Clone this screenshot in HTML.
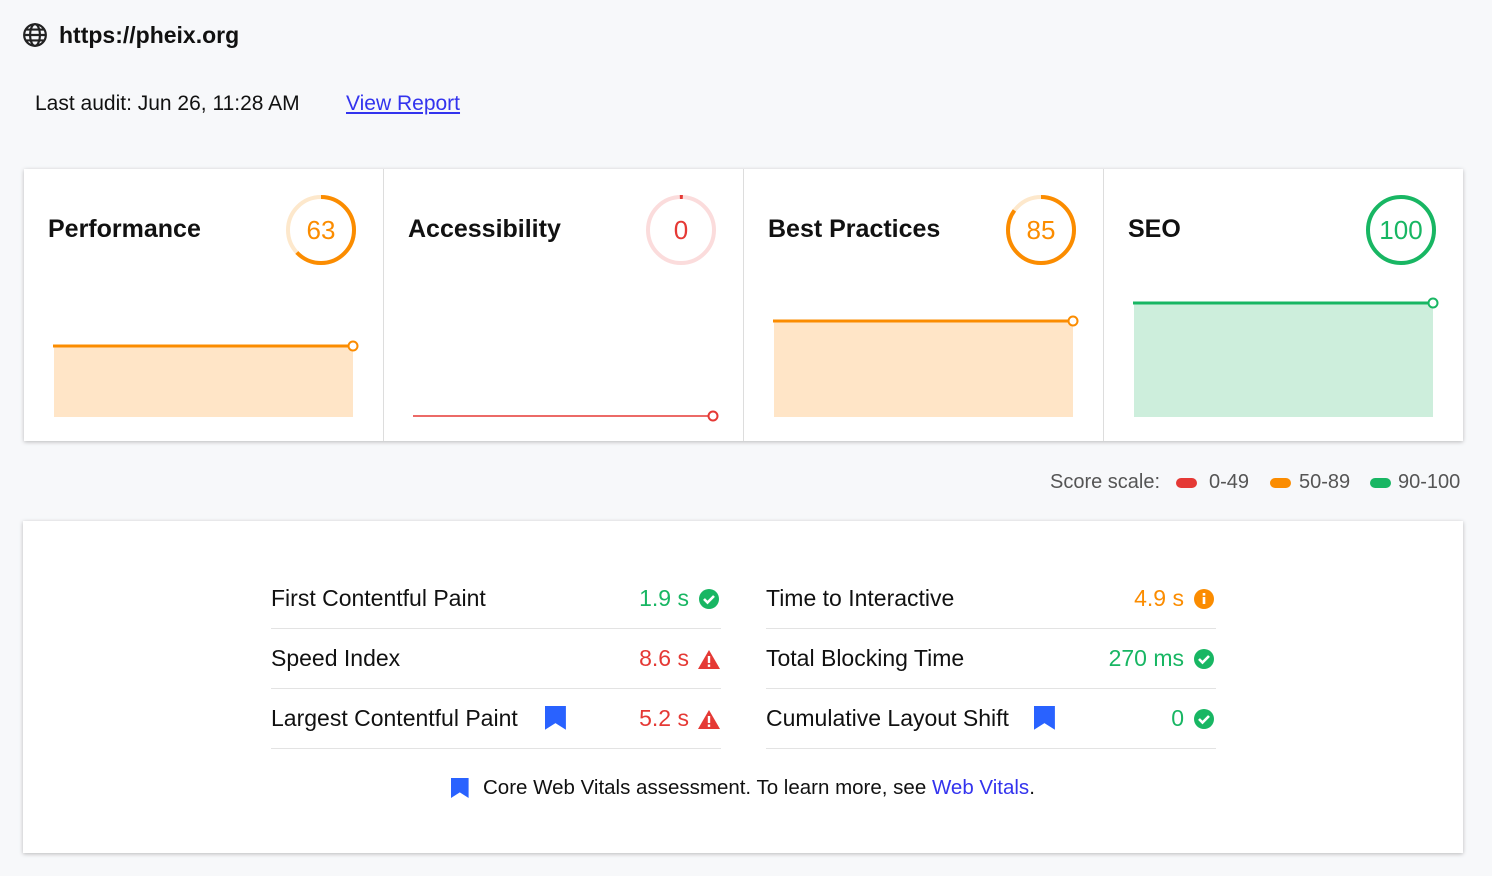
<!DOCTYPE html>
<html><head><style>
body{margin:0;width:1492px;height:876px;background:#f7f8fa;font-family:"Liberation Sans",sans-serif;color:#111;position:relative;overflow:hidden}
.a{position:absolute;white-space:nowrap}
.card{position:absolute;background:#fff;box-shadow:0 1px 4px rgba(0,0,0,.25)}
.t{font-size:25px;font-weight:bold;top:215px}
.m{font-size:23px}
.sep{position:absolute;height:1px;background:#e3e3e3}
</style></head><body>
<svg class="a" style="left:22px;top:22px" width="26" height="26" viewBox="0 0 24 24"><circle cx="12" cy="12" r="10" fill="none" stroke="#222" stroke-width="2"/><ellipse cx="12" cy="12" rx="4.5" ry="10" fill="none" stroke="#222" stroke-width="2"/><path d="M2 12H22M4 7H20M4 17H20" stroke="#222" stroke-width="2"/></svg>
<div class="a" style="left:59px;top:22px;font-size:23px;font-weight:bold">https://pheix.org</div>
<div class="a" style="left:35px;top:92px;font-size:21px">Last audit: Jun 26, 11:28 AM</div>
<div class="a" style="left:346px;top:92px;font-size:21px;color:#3333ee;text-decoration:underline">View Report</div>

<div class="card" style="left:24px;top:169px;width:1439px;height:272px"></div>
<div class="a" style="left:383px;top:169px;width:1px;height:272px;background:#ddd"></div>
<div class="a" style="left:743px;top:169px;width:1px;height:272px;background:#ddd"></div>
<div class="a" style="left:1103px;top:169px;width:1px;height:272px;background:#ddd"></div>
<div class="a t" style="left:48px">Performance</div>
<div class="a t" style="left:408px">Accessibility</div>
<div class="a t" style="left:768px">Best Practices</div>
<div class="a t" style="left:1128px">SEO</div>
<svg class="a" style="left:0;top:0" width="1492" height="450">
<g fill="none" stroke-width="4">
<circle cx="321" cy="230" r="33" stroke="#fde8cc"/>
<circle cx="321" cy="230" r="33" stroke="#fb8c00" stroke-dasharray="130.6 207.3" transform="rotate(-90 321 230)"/>
<circle cx="681" cy="230" r="33" stroke="#fbdcdc"/>
<circle cx="681" cy="230" r="33" stroke="#e53935" stroke-dasharray="3 207.3" transform="rotate(-92 681 230)"/>
<circle cx="1041" cy="230" r="33" stroke="#fde8cc"/>
<circle cx="1041" cy="230" r="33" stroke="#fb8c00" stroke-dasharray="176.2 207.3" transform="rotate(-90 1041 230)"/>
<circle cx="1401" cy="230" r="33" stroke="#18b663"/>
</g>
<g font-family="Liberation Sans" font-size="26" text-anchor="middle">
<text x="321" y="239" fill="#fb8c00">63</text>
<text x="681" y="239" fill="#e53935">0</text>
<text x="1041" y="239" fill="#fb8c00">85</text>
<text x="1401" y="239" fill="#18b663">100</text>
</g>
<rect x="54" y="346" width="299" height="71" fill="#ffe5c7"/>
<line x1="53" y1="346" x2="353" y2="346" stroke="#fb8c00" stroke-width="3"/>
<circle cx="353" cy="346" r="4.5" fill="#fff" stroke="#fb8c00" stroke-width="2"/>
<line x1="413" y1="416" x2="713" y2="416" stroke="#e53935" stroke-width="1.5"/>
<circle cx="713" cy="416" r="4.5" fill="#fff" stroke="#e53935" stroke-width="2"/>
<rect x="774" y="321" width="299" height="96" fill="#ffe5c7"/>
<line x1="773" y1="321" x2="1073" y2="321" stroke="#fb8c00" stroke-width="3"/>
<circle cx="1073" cy="321" r="4.5" fill="#fff" stroke="#fb8c00" stroke-width="2"/>
<rect x="1134" y="303" width="299" height="114" fill="#cdeedc"/>
<line x1="1133" y1="303" x2="1433" y2="303" stroke="#18b663" stroke-width="3"/>
<circle cx="1433" cy="303" r="4.5" fill="#fff" stroke="#18b663" stroke-width="2"/>
</svg>

<div class="a" style="left:1050px;top:471px;font-size:20px;color:#555">Score scale:</div>
<div class="a" style="left:1176px;top:478px;width:21px;height:10px;border-radius:5px;background:#e53935"></div>
<div class="a" style="left:1209px;top:471px;font-size:20px;color:#555">0-49</div>
<div class="a" style="left:1270px;top:478px;width:21px;height:10px;border-radius:5px;background:#fb8c00"></div>
<div class="a" style="left:1299px;top:471px;font-size:20px;color:#555">50-89</div>
<div class="a" style="left:1370px;top:478px;width:21px;height:10px;border-radius:5px;background:#18b663"></div>
<div class="a" style="left:1398px;top:471px;font-size:20px;color:#555">90-100</div>

<div class="card" style="left:23px;top:521px;width:1440px;height:332px"></div>
<div class="sep" style="left:271px;top:628px;width:450px"></div>
<div class="sep" style="left:271px;top:688px;width:450px"></div>
<div class="sep" style="left:271px;top:748px;width:450px"></div>
<div class="sep" style="left:766px;top:628px;width:450px"></div>
<div class="sep" style="left:766px;top:688px;width:450px"></div>
<div class="sep" style="left:766px;top:748px;width:450px"></div>
<div class="a m" style="left:271px;top:585px">First Contentful Paint</div>
<div class="a m" style="left:271px;top:645px">Speed Index</div>
<div class="a m" style="left:271px;top:705px">Largest Contentful Paint</div>
<div class="a m" style="left:766px;top:585px">Time to Interactive</div>
<div class="a m" style="left:766px;top:645px">Total Blocking Time</div>
<div class="a m" style="left:766px;top:705px">Cumulative Layout Shift</div>
<div class="a m" style="right:803px;top:585px;color:#18b663">1.9 s</div>
<div class="a m" style="right:803px;top:645px;color:#e53935">8.6 s</div>
<div class="a m" style="right:803px;top:705px;color:#e53935">5.2 s</div>
<div class="a m" style="right:308px;top:585px;color:#fb8c00">4.9 s</div>
<div class="a m" style="right:308px;top:645px;color:#18b663">270 ms</div>
<div class="a m" style="right:308px;top:705px;color:#18b663">0</div>
<svg class="a" style="left:0;top:0" width="1492" height="876">
<defs>
<g id="ok"><circle r="10" fill="#18b663"/><path d="M-5 0L-1.5 3.5L5 -3" stroke="#fff" stroke-width="2.6" fill="none"/></g>
<g id="bad"><path d="M0 -10L11 9H-11Z" fill="#e53935"/><rect x="-1.2" y="-4" width="2.4" height="7" fill="#fff"/><rect x="-1.2" y="4.5" width="2.4" height="2.4" fill="#fff"/></g>
<path id="bm" d="M0 0H22V25L11 18L0 25Z" fill="#2962ff"/>
</defs>
<use href="#ok" x="709" y="599"/>
<use href="#bad" x="709" y="660"/>
<use href="#bad" x="709" y="720"/>
<circle cx="1204" cy="599" r="10" fill="#fb8c00"/><rect x="1202.7" y="597" width="2.6" height="7" fill="#fff"/><rect x="1202.7" y="593" width="2.6" height="2.6" fill="#fff"/>
<use href="#ok" x="1204" y="659"/>
<use href="#ok" x="1204" y="719"/>
<use href="#bm" transform="translate(545,706) scale(0.95)"/>
<use href="#bm" transform="translate(1034,706) scale(0.95)"/>
<use href="#bm" transform="translate(451,778) scale(0.8)"/>
</svg>
<div class="a" style="left:483px;top:776px;font-size:20.5px">Core Web Vitals assessment. To learn more, see <span style="color:#3333ee">Web Vitals</span>.</div>
</body></html>
